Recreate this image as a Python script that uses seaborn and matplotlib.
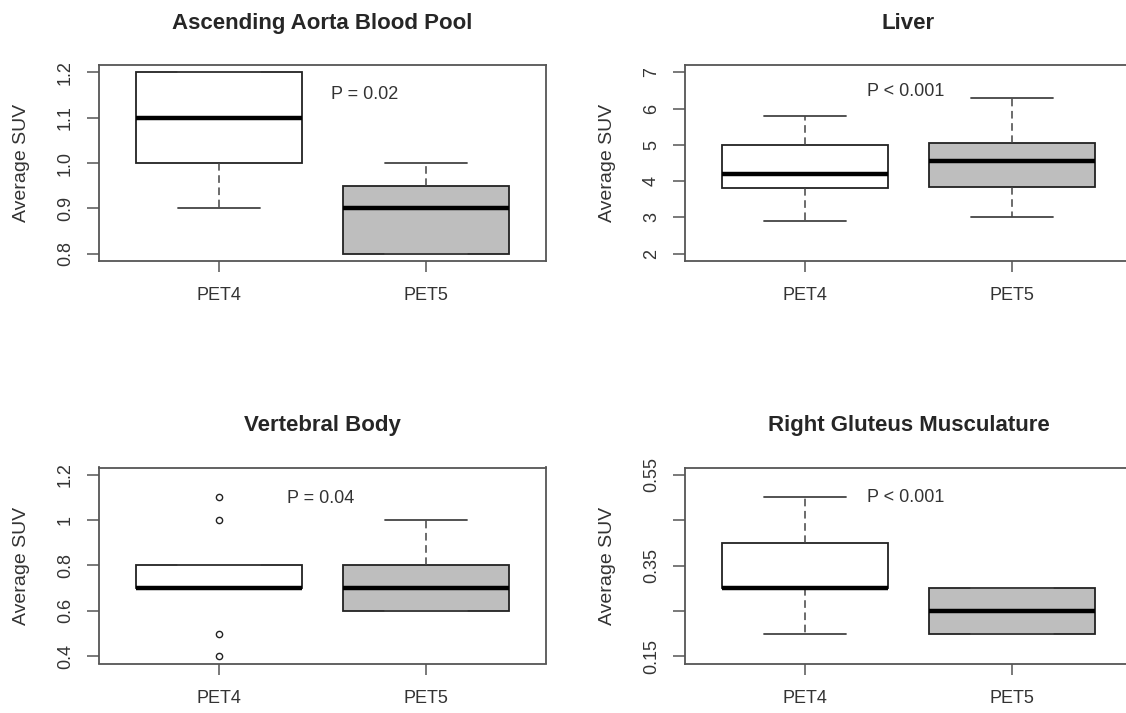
import numpy as np
import pandas as pd
import seaborn as sns
import matplotlib.pyplot as plt

# five-number summaries (min, Q1, median, Q3, max)
groups = ["PET4", "PET5"]
aorta_pet4 = [0.9, 1.0, 1.1, 1.2, 1.2]
aorta_pet5 = [0.8, 0.8, 0.9, 0.95, 1.0]
liver_pet4 = [2.9, 3.8, 4.2, 5.0, 5.8]
liver_pet5 = [3.0, 3.85, 4.55, 5.05, 6.3]
# vertebral PET4 has outliers, so more points are needed
vert_pet4 = [0.4, 0.5, 0.7, 0.7, 0.7, 0.7, 0.8, 0.8, 0.8, 1.0, 1.1]
vert_pet5 = [0.6, 0.6, 0.7, 0.8, 1.0]
glut_pet4 = [0.2, 0.3, 0.3, 0.4, 0.5]
glut_pet5 = [0.2, 0.2, 0.25, 0.3, 0.3]

titles = ["Ascending Aorta Blood Pool", "Liver", "Vertebral Body", "Right Gluteus Musculature"]
p_texts = ["P = 0.02", "P < 0.001", "P = 0.04", "P < 0.001"]
p_pos = [(0.54, 1.151), (0.30, 6.46), (0.33, 1.097), (0.30, 0.499)]
yticks = [[0.8, 0.9, 1.0, 1.1, 1.2], [2, 3, 4, 5, 6, 7],
          [0.4, 0.6, 0.8, 1.0, 1.2], [0.15, 0.25, 0.35, 0.45, 0.55]]
ytick_labels = [["0.8", "0.9", "1.0", "1.1", "1.2"], ["2", "3", "4", "5", "6", "7"],
                ["0.4", "0.6", "0.8", "1", "1.2"], ["0.15", "", "0.35", "", "0.55"]]

panels = [(aorta_pet4, aorta_pet5), (liver_pet4, liver_pet5),
          (vert_pet4, vert_pet5), (glut_pet4, glut_pet5)]

sns.set_style("white")
plt.rcParams['font.family'] = ['Liberation Sans', 'DejaVu Sans']

fig = plt.figure(figsize=(11.26, 7.13), dpi=100)
# axes placement in figure fractions (R-like 2x2 layout)
W, H = 1126, 713
lefts = [99 / W, 685 / W]
bottoms = [1 - 261 / H, 1 - 663.5 / H]
aw, ah = 447 / W, 196 / H

frame_col = "#555555"
text_col = "#333333"

for i, (a, b) in enumerate(panels):
    ax = fig.add_axes([lefts[i % 2], bottoms[i // 2], aw, ah])
    df = pd.DataFrame({
        "group": [groups[0]] * len(a) + [groups[1]] * len(b),
        "value": a + b,
    })
    sns.boxplot(data=df, x="group", y="value", hue="group", palette=["white", "#bebebe"],
                legend=False, width=0.8, saturation=1, whis=1.5, ax=ax,
                linecolor="#222222", linewidth=1.3, fliersize=4.5,
                whiskerprops={"linestyle": (0, (5, 3)), "color": "#444444", "linewidth": 1.1},
                capprops={"color": "#444444", "linewidth": 1.3},
                medianprops={"color": "black", "linewidth": 3.2},
                flierprops={"marker": "o", "markerfacecolor": "none",
                            "markeredgecolor": "#222222", "markersize": 4.5})

    lo, hi = yticks[i][0], yticks[i][-1]
    pad = 0.04 * (hi - lo)
    ax.set_ylim(lo - pad, hi + pad)
    ax.set_xlim(-0.58, 1.58)
    ax.set_yticks(yticks[i], labels=ytick_labels[i], rotation=90, va="center")
    ax.set_xticks([0, 1], labels=groups)
    ax.tick_params(axis="y", length=8.5, width=1.1, color=frame_col, pad=9.5,
                   labelsize=13, labelcolor=text_col, direction="out", left=True)
    ax.tick_params(axis="x", length=8, width=1.1, color=frame_col, pad=11,
                   labelsize=13, labelcolor=text_col, direction="out", bottom=True)
    ax.set_xlabel("")
    ax.set_ylabel("Average SUV", fontsize=14, color=text_col)
    ax.yaxis.set_label_coords(-69 / 447, 0.5)
    for s in ax.spines.values():
        s.set_visible(True)
        s.set_color(frame_col)
        s.set_linewidth(1.3)
    ax.set_title(titles[i], fontsize=16, fontweight="bold", pad=26)
    ax.text(p_pos[i][0], p_pos[i][1], p_texts[i], fontsize=13, color=text_col,
            ha="left", va="center")

fig.savefig("out.png", dpi=100)
